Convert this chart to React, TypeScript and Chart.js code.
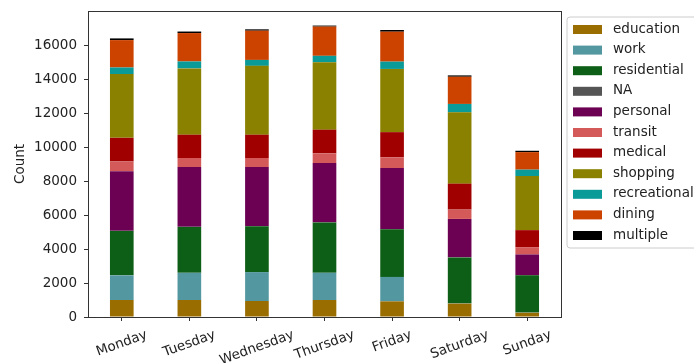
import React, { useEffect, useRef } from 'react';
import { Chart, registerables } from 'chart.js';

Chart.register(...registerables);

const days = ['Monday', 'Tuesday', 'Wednesday', 'Thursday', 'Friday', 'Saturday', 'Sunday'];
const categories = ['education', 'work', 'residential', 'NA', 'personal', 'transit', 'medical', 'shopping', 'recreational', 'dining', 'multiple'];
const colors = ['#9a6d00', '#5397a0', '#0d5e16', '#555555', '#6c0053', '#d45a5a', '#a00000', '#8a8100', '#0a9a98', '#cc4300', '#000000'];

const education = [1000, 1000, 940, 1000, 920, 790, 250];
const work = [1450, 1600, 1700, 1600, 1440, 20, 10];
const residential = [2616, 2700, 2700, 2956, 2800, 2690, 2190];
const na = [15, 15, 15, 15, 15, 10, 10];
const personal = [3500, 3510, 3470, 3490, 3590, 2260, 1220];
const transit = [570, 530, 530, 570, 630, 550, 430];
const medical = [1390, 1370, 1370, 1390, 1480, 1525, 1000];
const shopping = [3750, 3900, 4050, 3970, 3720, 4200, 3185];
const recreational = [390, 410, 350, 375, 430, 490, 375];
const dining = [1610, 1670, 1720, 1720, 1760, 1600, 1030];
const multiple = [100, 90, 80, 60, 100, 80, 80];

const seriesValues = [education, work, residential, na, personal, transit, medical, shopping, recreational, dining, multiple];
const yTicks = [0, 2000, 4000, 6000, 8000, 10000, 12000, 14000, 16000];

const FONT = '"DejaVu Sans", sans-serif';
const TEXT = '#222222';
const AXIS = '#333333';

const decorPlugin = {
  id: 'decor',
  afterDraw(chart: any) {
    const ctx = chart.ctx;
    const area = chart.chartArea;
    const xs = chart.scales.x;
    ctx.save();
    ctx.strokeStyle = AXIS;
    ctx.lineWidth = 1;
    ctx.strokeRect(Math.round(area.left) + 0.5, Math.round(area.top) + 0.5, Math.round(area.right - area.left), Math.round(area.bottom - area.top));

    const fs = 13.5;
    ctx.font = `${fs}px ${FONT}`;
    ctx.fillStyle = TEXT;
    const theta = (20 * Math.PI) / 180;
    const h = fs * 1.16;
    days.forEach((d, i) => {
      const x = xs.getPixelForValue(i);
      const w = ctx.measureText(d).width;
      const H = w * Math.sin(theta) + h * Math.cos(theta);
      const cy = area.bottom + 10 + H / 2;
      ctx.save();
      ctx.translate(x, cy);
      ctx.rotate(-theta);
      ctx.textAlign = 'center';
      ctx.textBaseline = 'middle';
      ctx.fillText(d, 0, 0);
      ctx.restore();
    });

    ctx.save();
    ctx.translate(20, (area.top + area.bottom) / 2);
    ctx.rotate(-Math.PI / 2);
    ctx.textAlign = 'center';
    ctx.textBaseline = 'middle';
    ctx.fillText('Count', 0, 0);
    ctx.restore();

    const lx = 567;
    const ly = 17;
    const lw = 150;
    const lh = 231;
    ctx.beginPath();
    const r = 3;
    ctx.moveTo(lx + r, ly);
    ctx.lineTo(lx + lw - r, ly);
    ctx.arcTo(lx + lw, ly, lx + lw, ly + r, r);
    ctx.lineTo(lx + lw, ly + lh - r);
    ctx.arcTo(lx + lw, ly + lh, lx + lw - r, ly + lh, r);
    ctx.lineTo(lx + r, ly + lh);
    ctx.arcTo(lx, ly + lh, lx, ly + lh - r, r);
    ctx.lineTo(lx, ly + r);
    ctx.arcTo(lx, ly, lx + r, ly, r);
    ctx.closePath();
    ctx.fillStyle = 'rgba(255,255,255,0.8)';
    ctx.fill();
    ctx.strokeStyle = '#cccccc';
    ctx.lineWidth = 1;
    ctx.stroke();
    ctx.textAlign = 'left';
    ctx.textBaseline = 'middle';
    chart.data.datasets.forEach((ds: any, i: number) => {
      const cy = 29 + i * 20.6;
      ctx.fillStyle = ds.backgroundColor;
      ctx.fillRect(573, cy - 4, 29, 9);
      ctx.fillStyle = TEXT;
      ctx.fillText(ds.label, 613, cy);
    });
    ctx.restore();
  },
};

export default function App() {
  const ref = useRef<HTMLCanvasElement | null>(null);
  useEffect(() => {
    document.body.style.margin = '0';
    const totals = days.map((_, i) => seriesValues.reduce((s, arr) => s + arr[i], 0));
    const yMax = Math.max(...totals) * 1.05;
    const chart = new Chart(ref.current as HTMLCanvasElement, {
      type: 'bar',
      data: {
        labels: days,
        datasets: categories.map((c, i) => ({
          label: c,
          data: seriesValues[i],
          backgroundColor: colors[i],
          borderWidth: 0,
          barPercentage: 0.35,
          categoryPercentage: 1,
        })),
      },
      options: {
        animation: false,
        responsive: true,
        maintainAspectRatio: false,
        layout: { padding: { top: 11, right: 133, left: 0, bottom: 0 } },
        plugins: { legend: { display: false }, tooltip: { enabled: false } },
        scales: {
          x: {
            stacked: true,
            offset: true,
            grid: { display: true, drawOnChartArea: false, drawTicks: true, tickLength: 4, color: AXIS, offset: false },
            border: { display: false },
            ticks: { display: false },
            afterFit: (s: any) => { s.height = 46; s.paddingLeft = 0; s.paddingRight = 0; },
          },
          y: {
            stacked: true,
            min: 0,
            max: yMax,
            grid: { display: true, drawOnChartArea: false, drawTicks: true, tickLength: 4, color: AXIS },
            border: { display: false },
            ticks: {
              autoSkip: false,
              color: TEXT,
              font: { family: FONT, size: 13.5 },
              padding: 7,
              callback: (v: any) => String(v),
            },
            afterBuildTicks: (s: any) => { s.ticks = yTicks.map((v) => ({ value: v })); },
            afterFit: (s: any) => { s.width = 88; s.paddingTop = 0; s.paddingBottom = 0; },
          },
        },
      },
      plugins: [decorPlugin],
    });
    return () => chart.destroy();
  }, []);
  return (
    <div style={{ position: 'fixed', left: 0, top: 0, width: 694, height: 363, background: '#fff' }}>
      <canvas ref={ref} />
    </div>
  );
}
